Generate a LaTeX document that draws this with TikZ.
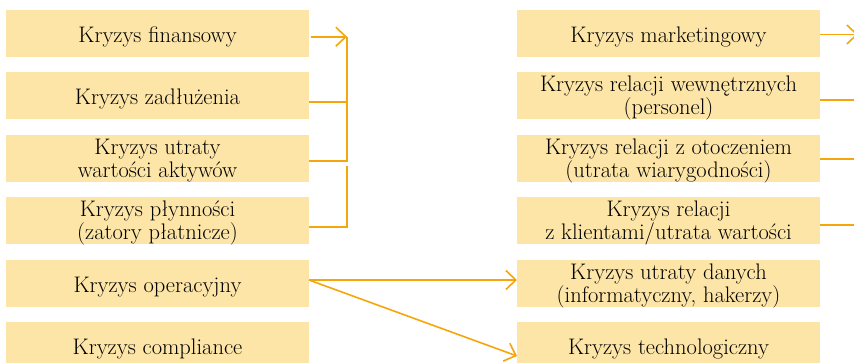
\documentclass[tikz,border=0pt]{standalone}
\usepackage{fontspec}
\usetikzlibrary{arrows.meta}

\definecolor{boxfill}{RGB}{252,229,166}
\definecolor{linkc}{RGB}{245,166,10}

\begin{document}
\begin{tikzpicture}[x=1pt,y=-1pt,
  box/.style={fill=boxfill, minimum width=303pt, minimum height=47pt,
              inner sep=0pt, outer sep=0pt, anchor=north west},
  lbl/.style={font=\fontsize{22.5}{22.5}\selectfont, anchor=base,
              inner sep=0pt, align=center},
  link/.style={draw=linkc, line width=1.6pt},
  tip/.style={-{Straight Barb[length=10pt,width=19pt]}}]

\clip (0,0) rectangle (854,362);
\useasboundingbox (0,0) rectangle (854,362);

% left column
\node[box] (L1) at (6,10)  {};
\node[box] (L2) at (6,72)  {};
\node[box] (L3) at (6,135) {};
\node[box] (L4) at (6,197) {};
\node[box] (L5) at (6,260) {};
\node[box] (L6) at (6,322) {};

% right column
\node[box] (R1) at (517,10)  {};
\node[box] (R2) at (517,72)  {};
\node[box] (R3) at (517,135) {};
\node[box] (R4) at (517,197) {};
\node[box] (R5) at (517,260) {};
\node[box] (R6) at (517,322) {};

% labels: the base anchor is the baseline of the last line
\node[lbl] (tL1) at (157.5,42)  {Kryzys finansowy};
\node[lbl] (tL2) at (157.5,104) {Kryzys zadłużenia};
\node[lbl] (tL3) at (157.5,177.3) {Kryzys utraty\\wartości aktywów};
\node[lbl] (tL4) at (157.5,239.3) {Kryzys płynności\\(zatory płatnicze)};
\node[lbl] (tL5) at (157.5,292) {Kryzys operacyjny};
\node[lbl] (tL6) at (157.5,354) {Kryzys compliance};

\node[lbl] (tR1) at (668.5,42)  {Kryzys marketingowy};
\node[lbl] (tR2) at (668.5,114.3) {Kryzys relacji wewnętrznych\\(personel)};
\node[lbl] (tR3) at (668.5,177.3) {Kryzys relacji z otoczeniem\\(utrata wiarygodności)};
\node[lbl] (tR4) at (668.5,239.3) {Kryzys relacji\\z klientami/utrata wartości};
\node[lbl] (tR5) at (668.5,302.3) {Kryzys utraty danych\\(informatyczny, hakerzy)};
\node[lbl] (tR6) at (668.5,354) {Kryzys technologiczny};

% bracket joining the financial crises
\coordinate (bTop) at (347,36.7);
\coordinate (bMid) at (347,101.7);
\coordinate (bLow) at (347,166);
\draw[link,tip] ([xshift=1.5pt,yshift=-3.2pt]L1.east) -- (bTop);
\draw[link] ([yshift=-6.2pt]L2.east) -- (bMid);
\draw[link] ([yshift=-2.2pt]L3.east) -| (bTop);
\draw[link] ([yshift=-6.5pt]L4.east) -| (bLow);

% operational crisis
\draw[link,tip] ([yshift=3.5pt]L5.east) -- ([yshift=3.5pt]R5.west);
\draw[link,tip] ([yshift=3.5pt]L5.east) -- ([yshift=-10.5pt]R6.west);

% outgoing lines on the right
\coordinate (o1) at (858,34.5);
\coordinate (o2) at (856,100);
\coordinate (o3) at (856,159);
\coordinate (o4) at (856,225);
\draw[link,tip] ([yshift=-1pt]R1.east) -- (o1);
\draw[link] ([yshift=-4.5pt]R2.east) -- (o2);
\draw[link] ([yshift=-0.5pt]R3.east) -- (o3);
\draw[link] ([yshift=-4.5pt]R4.east) -- (o4);
\end{tikzpicture}
\end{document}
